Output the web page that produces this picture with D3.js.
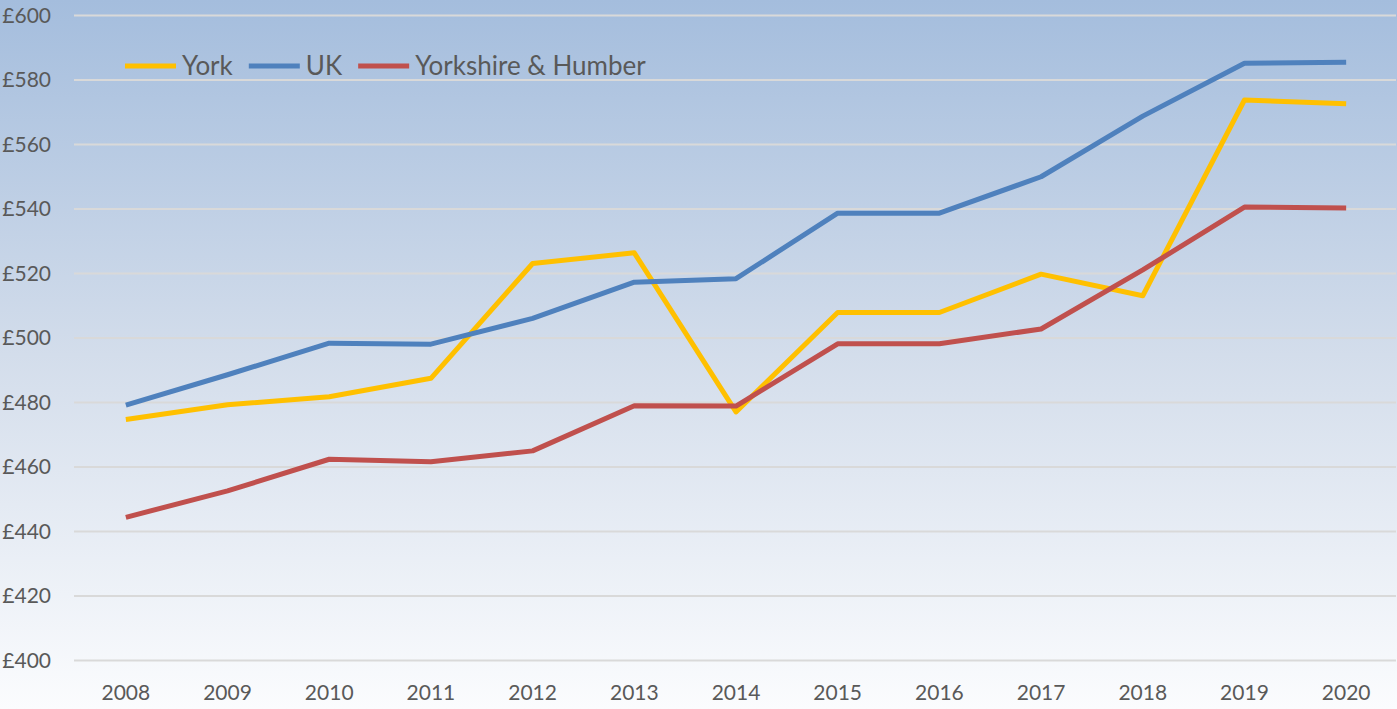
<!DOCTYPE html>
<html>
<head>
<meta charset="utf-8">
<script src="https://cdn.jsdelivr.net/npm/d3@7"></script>
<style>
  body { margin: 0; background: #fff; }
  text { font-family: Lato, "Open Sans", sans-serif; fill: #595959; }
</style>
</head>
<body>
<div class="chart"></div>
<script>
// chart size
var width = 1397;
var height = 709;

// data
var years = ["2008","2009","2010","2011","2012","2013","2014","2015","2016","2017","2018","2019","2020"];
var york = [474.7, 479.3, 481.8, 487.5, 523.1, 526.4, 477.1, 507.9, 507.9, 519.8, 513.1, 573.8, 572.6];
var uk = [479.2, 488.6, 498.4, 498.1, 506.1, 517.3, 518.4, 538.7, 538.7, 550.0, 568.8, 585.2, 585.5];
var yorksHumber = [444.4, 452.6, 462.4, 461.6, 465.0, 479.0, 478.9, 498.2, 498.2, 502.8, 521.1, 540.6, 540.3];
var seriesNames = ["York", "UK", "Yorkshire & Humber"];
var seriesColors = ["#ffc000", "#4f81bd", "#c0504d"];
var yTicks = [400, 420, 440, 460, 480, 500, 520, 540, 560, 580, 600];

var series = [york, uk, yorksHumber];

const svg = d3.select(".chart")
              .append("svg")
              .attr("width", width)
              .attr("height", height);

// background gradient
var defs = svg.append("defs");
var grad = defs.append("linearGradient")
               .attr("id", "bg")
               .attr("x1", 0).attr("y1", 0)
               .attr("x2", 0).attr("y2", 1);
grad.append("stop").attr("offset", "0%").attr("stop-color", "#a4bddd");
grad.append("stop").attr("offset", "50%").attr("stop-color", "#d3ddeb");
grad.append("stop").attr("offset", "100%").attr("stop-color", "#fbfcfe");

svg.append("rect")
   .attr("width", width)
   .attr("height", height)
   .attr("fill", "url(#bg)");

// scales
const xScale = d3.scaleBand()
                 .domain(years)
                 .range([75, 1397])
                 .padding(0);
const yScale = d3.scaleLinear()
                 .domain([400, 600])
                 .range([660.5, 15.5]);

// gridlines
svg.append("g")
   .selectAll("line")
   .data(yTicks)
   .enter()
   .append("line")
   .attr("x1", 74)
   .attr("x2", 1396)
   .attr("y1", d => yScale(d))
   .attr("y2", d => yScale(d))
   .attr("stroke", "#d9d9d9")
   .attr("stroke-width", 2);

// y axis labels
const yAxis = d3.axisLeft(yScale)
                .tickValues(yTicks)
                .tickSize(0)
                .tickPadding(0)
                .tickFormat(d => "£" + d);
svg.append("g")
   .attr("transform", "translate(51,0)")
   .call(yAxis)
   .call(g => g.select(".domain").remove())
   .selectAll("text")
   .style("font-size", "21px")
   .attr("fill", "#595959");

// x axis labels
const xAxis = d3.axisBottom(xScale)
                .tickSize(0)
                .tickPadding(0);
svg.append("g")
   .attr("transform", "translate(0,685)")
   .call(xAxis)
   .call(g => g.select(".domain").remove())
   .selectAll("text")
   .style("font-size", "21px")
   .attr("fill", "#595959");

// lines
var line = d3.line()
             .x((d, i) => xScale(years[i]) + xScale.bandwidth() / 2)
             .y(d => yScale(d));

svg.append("g")
   .selectAll("path")
   .data(series)
   .enter()
   .append("path")
   .attr("d", d => line(d))
   .attr("fill", "none")
   .attr("stroke", (d, i) => seriesColors[i])
   .attr("stroke-width", 5)
   .attr("stroke-linejoin", "round");

// legend
var legend = svg.append("g").attr("id", "legend");
var lx = 125;
seriesNames.forEach((name, i) => {
  legend.append("line")
        .attr("x1", lx).attr("x2", lx + 51)
        .attr("y1", 66).attr("y2", 66)
        .attr("stroke", seriesColors[i])
        .attr("stroke-width", 5);
  var t = legend.append("text")
                .attr("x", lx + 57)
                .attr("y", 66)
                .attr("dy", "0.35em")
                .style("font-size", "26px")
                .text(name);
  lx = lx + 57 + t.node().getComputedTextLength() + 16;
});
</script>
</body>
</html>
